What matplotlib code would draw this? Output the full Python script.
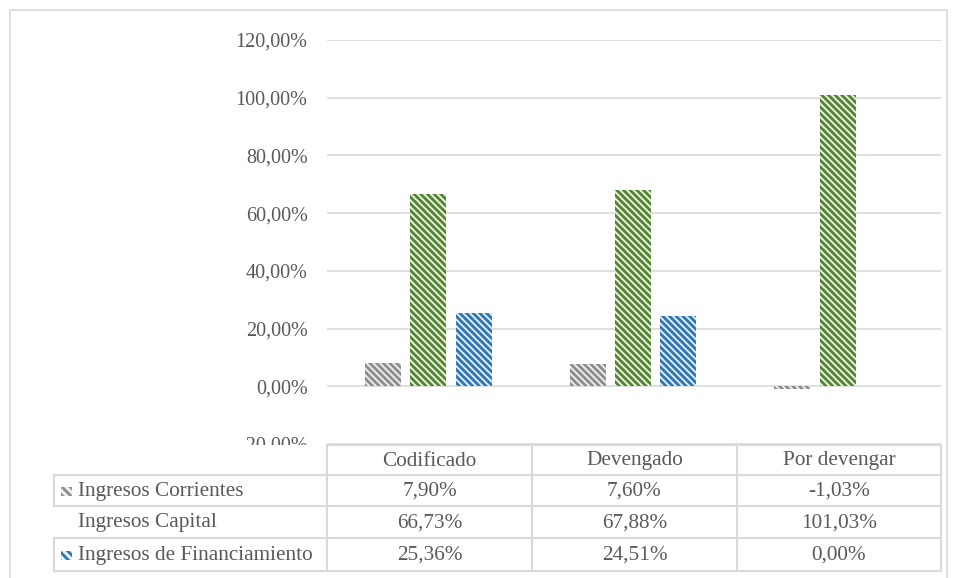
import matplotlib
matplotlib.use("Agg")
import matplotlib.pyplot as plt
from matplotlib.patches import Rectangle
from matplotlib.lines import Line2D
import numpy as np

categories = ["Codificado", "Devengado", "Por devengar"]
series_names = ["Ingresos Corrientes", "Ingresos Capital", "Ingresos de Financiamiento"]
corrientes = [7.90, 7.60, -1.03]
capital = [66.73, 67.88, 101.03]
financiamiento = [25.36, 24.51, 0.00]
table_text = [["7,90%", "7,60%", "-1,03%"],
              ["66,73%", "67,88%", "101,03%"],
              ["25,36%", "24,51%", "0,00%"]]
yticks = [-20, 0, 20, 40, 60, 80, 100, 120]

plt.rcParams['font.family'] = ['Liberation Serif', 'DejaVu Serif']
plt.rcParams['hatch.linewidth'] = 2.0

FS = 14.5
TFS = 15.3
W, H = 957, 578
fig = plt.figure(figsize=(W/100, H/100), dpi=100)

def fx(x): return x / W
def fy(y): return 1 - y / H

ax_l, ax_r, ax_t, ax_b = 327, 941, 40, 444
ax = fig.add_axes([fx(ax_l), fy(ax_b), (ax_r-ax_l)/W, (ax_b-ax_t)/H])

faces = ["#eeeeee", "#e8f5dc", "#e3effa"]
edges = ["#8c8c8c", "#548235", "#2e75b6"]
data = [corrientes, capital, financiamiento]
x = np.arange(len(categories))
off = 0.222
w = 0.176
for i, (vals, fc, ec) in enumerate(zip(data, faces, edges)):
    ax.bar(x + (i-1)*off - 0.005, vals, width=w, facecolor=fc, edgecolor=ec,
           hatch='\\\\\\\\\\', linewidth=0, zorder=3)

ax.set_xlim(-0.5, 2.5)
ax.set_ylim(-20, 120)
ax.set_yticks(yticks)
ax.set_yticklabels([f"{v:.2f}".replace('.', ',') + "%" for v in yticks],
                   fontsize=FS, color="#595959")
ax.tick_params(axis='y', length=0, pad=14)
ax.set_xticks([])
ax.grid(axis='y', color="#d9d9d9", linewidth=1.2, zorder=0)
for s in ax.spines.values():
    s.set_visible(False)

# white cover over lower half of -20% label
fig.patches.append(Rectangle((0, 0), fx(327), fy(445), transform=fig.transFigure,
                             facecolor="white", edgecolor="none", zorder=5))

# table
lc = "#d9d9d9"
col_x = [327, 532, 737, 941]
row_y = [445, 475, 506, 538, 571]
def hline(x0, x1, y):
    fig.add_artist(Line2D([fx(x0), fx(x1)], [fy(y), fy(y)], color=lc, lw=1.5, zorder=6))
def vline(x, y0, y1):
    fig.add_artist(Line2D([fx(x), fx(x)], [fy(y0), fy(y1)], color=lc, lw=1.5, zorder=6))

hline(327, 941, 445)
for y in row_y[1:]:
    hline(54, 941, y)
for xx in col_x:
    vline(xx, 445, 571)
vline(54, 475, 506)
vline(54, 538, 571)

for j, c in enumerate(categories):
    fig.text(fx((col_x[j]+col_x[j+1])/2), fy(461), c, ha='center', va='center',
             fontsize=TFS, color="#595959", zorder=7)
for i in range(3):
    yc = (row_y[i+1] + row_y[i+2]) / 2 + 1
    for j in range(3):
        fig.text(fx((col_x[j]+col_x[j+1])/2), fy(yc), table_text[i][j], ha='center',
                 va='center', fontsize=TFS, color="#595959", zorder=7)
    fig.text(fx(78), fy(yc), series_names[i], ha='left', va='center',
             fontsize=TFS, color="#595959", zorder=7)

# legend keys
for i in [0, 2]:
    yc = (row_y[i+1] + row_y[i+2]) / 2
    fig.patches.append(Rectangle((fx(61), fy(yc+5)), 11/W, 9/H, transform=fig.transFigure,
                                 facecolor=faces[i], edgecolor=edges[i], hatch='\\\\\\\\',
                                 linewidth=0, zorder=7))

# outer frame
fig.patches.append(Rectangle((fx(10), fy(580)), (947-10)/W, (580-10)/H,
                             transform=fig.transFigure, facecolor="none",
                             edgecolor="#d9d9d9", linewidth=1.2, zorder=8))

fig.savefig("out.png", dpi=100)
